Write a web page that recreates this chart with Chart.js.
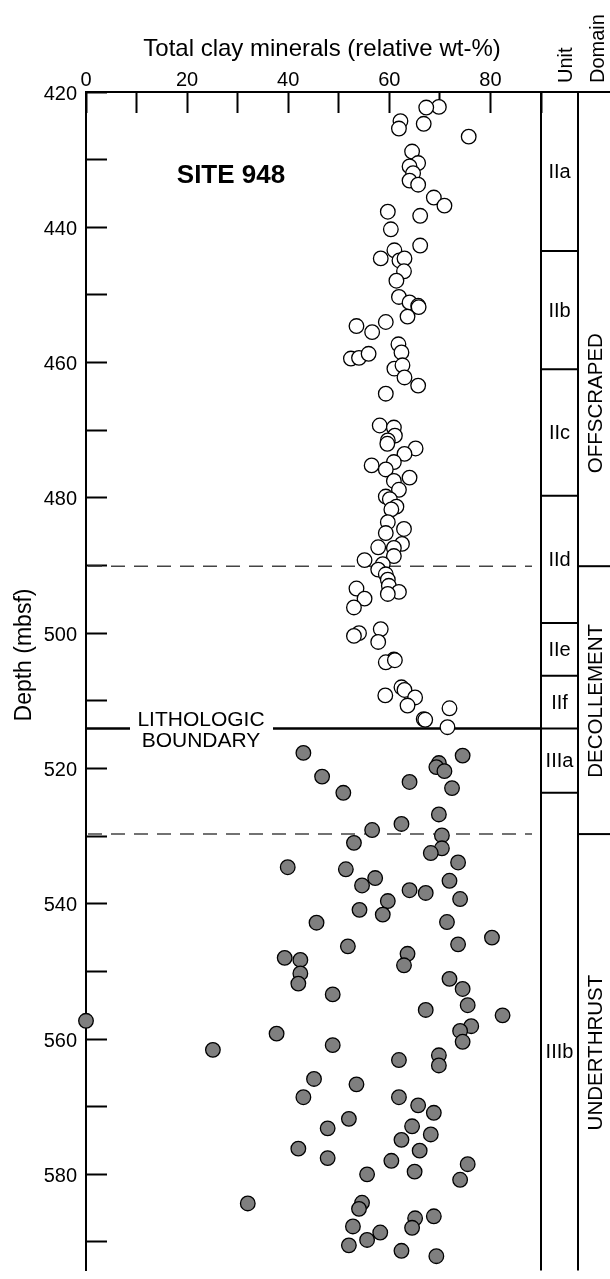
<!DOCTYPE html>
<html>
<head>
<meta charset="utf-8">
<script src="https://cdn.jsdelivr.net/npm/chart.js@4.4.0/dist/chart.umd.min.js"></script>
<style>
    html, body { margin: 0; padding: 0; background: #fff; }
    .chart-box { position: relative; width: 610px; height: 1279px; }
</style>
</head>
<body>
<div class="chart-box"><canvas id="chartClay" width="610" height="1279"></canvas></div>
<script>
/************** data ************/

// open circles : Unit II (clay wt-%, depth mbsf)
const openClay = [
    69.8, 67.3, 62.2, 61.9, 66.8, 75.7, 64.5, 65.7, 64.0, 64.7,
    64.0, 65.7, 68.8, 70.9, 59.7, 66.1, 60.3, 66.1, 61.0, 58.3,
    62.0, 63.0, 62.9, 61.4, 61.9, 64.0, 65.7, 65.8, 63.6, 59.3,
    53.5, 56.6, 61.8, 62.4, 52.4, 54.0, 55.9, 61.0, 62.6, 63.0,
    65.7, 59.3, 58.1, 60.9, 61.1, 59.7, 59.6, 65.2, 63.0, 60.9,
    56.5, 59.3, 64.0, 60.9, 61.9, 59.3, 60.1, 61.4, 60.4, 59.7,
    62.9, 59.3, 62.5, 57.8, 60.9, 60.9, 55.1, 58.7, 57.8, 59.3,
    59.7, 59.9, 61.9, 59.7, 53.5, 55.1, 53.0, 58.3, 54.0, 53.0,
    57.8, 60.9, 59.3, 61.1, 62.4, 63.0, 65.1, 59.2, 63.6, 71.9,
    66.8, 67.1, 71.5
];
const openDepth = [
    422.2, 422.3, 424.3, 425.4, 424.7, 426.6, 428.8, 430.5, 431.0, 432.0,
    433.1, 433.7, 435.6, 436.8, 437.7, 438.3, 440.3, 442.7, 443.4, 444.6,
    444.9, 444.6, 446.5, 447.9, 450.3, 451.1, 451.6, 451.8, 453.2, 454.0,
    454.6, 455.5, 457.3, 458.5, 459.4, 459.3, 458.7, 460.9, 460.4, 462.2,
    463.4, 464.6, 469.3, 469.6, 470.8, 471.5, 472.0, 472.7, 473.5, 474.7,
    475.2, 475.8, 477.0, 477.5, 478.8, 479.8, 480.2, 481.3, 481.7, 483.6,
    484.6, 485.2, 486.8, 487.3, 487.4, 488.6, 489.2, 489.8, 490.6, 491.3,
    492.1, 493.0, 493.9, 494.2, 493.4, 494.9, 496.2, 499.4, 500.0, 500.4,
    501.3, 503.9, 504.3, 504.0, 508.0, 508.4, 509.5, 509.2, 510.7, 511.1,
    512.7, 512.8, 513.9
];

// filled circles : Unit III
const closedClay = [
    43.0, 74.5, 69.8, 69.3, 70.9, 46.7, 64.0, 72.4, 50.9, 69.8,
    62.4, 56.6, 70.4, 70.4, 53.0, 68.2, 73.6, 39.9, 51.4, 57.2,
    54.6, 71.9, 64.0, 67.2, 74.0, 59.7, 54.1, 58.7, 45.6, 71.4,
    80.3, 73.6, 51.8, 63.6, 62.9, 39.3, 42.4, 42.4, 42.0, 48.8,
    71.9, 74.5, 75.5, 67.2, 82.4, 76.2, 74.0, 74.5, 37.7, 48.8,
    0.0, 25.1, 69.8, 69.8, 61.9, 45.1, 53.5, 43.0, 61.9, 65.7,
    68.8, 52.0, 47.8, 64.5, 68.2, 62.4, 66.0, 42.0, 47.8, 60.4,
    65.0, 75.5, 74.0, 55.6, 32.0, 54.6, 54.0, 65.1, 68.8, 52.8,
    64.5, 58.2, 55.6, 52.0, 62.4, 69.3
];
const closedDepth = [
    517.7, 518.1, 519.2, 519.8, 520.4, 521.2, 522.0, 522.9, 523.6, 526.8,
    528.2, 529.1, 529.9, 531.8, 531.0, 532.5, 533.9, 534.6, 534.9, 536.2,
    537.3, 536.6, 538.0, 538.4, 539.3, 539.6, 540.9, 541.6, 542.8, 542.7,
    545.0, 546.0, 546.3, 547.4, 549.1, 548.0, 548.3, 550.3, 551.8, 553.4,
    551.1, 552.6, 555.0, 555.7, 556.5, 558.1, 558.8, 560.4, 559.2, 560.9,
    557.3, 561.6, 562.4, 563.9, 563.1, 565.9, 566.7, 568.6, 568.6, 569.8,
    570.9, 571.8, 573.2, 572.9, 574.1, 574.9, 576.5, 576.2, 577.6, 578.0,
    579.6, 578.5, 580.8, 580.0, 584.3, 584.2, 585.1, 586.5, 586.2, 587.7,
    587.9, 588.6, 589.7, 590.5, 591.3, 592.1
];

// tick labels
const clayTicks = [0, 20, 40, 60, 80];
const depthTicks = [420, 440, 460, 480, 500, 520, 540, 560, 580];

// units / domains
const unitNames = ['IIa', 'IIb', 'IIc', 'IId', 'IIe', 'IIf', 'IIIa', 'IIIb'];
const unitTops = [420, 443.5, 461.0, 479.7, 498.5, 506.3, 514.1, 523.6];
const unitBase = 600;
const domainNames = ['OFFSCRAPED', 'DECOLLEMENT', 'UNDERTHRUST'];
const domainTops = [420, 490.1, 529.7];
const dashedDepths = [490.1, 529.7];
const lithBoundary = 514.1;

const FONT = "'Liberation Sans', Arial, Helvetica, sans-serif";

// points
function toPoints(xs, ys) {
    return xs.map((v, i) => ({ x: v, y: ys[i] }));
}

function strokeLine(ctx, x1, y1, x2, y2) {
    ctx.beginPath();
    ctx.moveTo(x1, y1);
    ctx.lineTo(x2, y2);
    ctx.stroke();
}

// rotated text (reads bottom to top)
function rotText(ctx, text, x, y, align) {
    ctx.save();
    ctx.translate(x, y);
    ctx.rotate(-Math.PI / 2);
    ctx.textAlign = align;
    ctx.textBaseline = 'alphabetic';
    ctx.fillText(text, 0, 0);
    ctx.restore();
}

// lines under the points
const underPlugin = {
    id: 'under',
    beforeDatasetsDraw(chart) {
        const { ctx, chartArea } = chart;
        const y = chart.scales.y;
        ctx.save();

        // dashed domain lines
        ctx.strokeStyle = '#444';
        ctx.lineWidth = 1.5;
        ctx.setLineDash([14, 9]);
        dashedDepths.forEach(d => {
            const py = y.getPixelForValue(d);
            strokeLine(ctx, chartArea.left + 2, py, chartArea.right - 9, py);
        });
        ctx.setLineDash([]);

        // lithologic boundary
        const ly = y.getPixelForValue(lithBoundary);
        ctx.strokeStyle = '#000';
        ctx.lineWidth = 2.5;
        strokeLine(ctx, chartArea.left, ly, 130, ly);
        strokeLine(ctx, 273, ly, chartArea.right, ly);

        ctx.fillStyle = '#000';
        ctx.font = '21px ' + FONT;
        ctx.textAlign = 'center';
        ctx.textBaseline = 'alphabetic';
        ctx.fillText('LITHOLOGIC', 201, ly - 3);
        ctx.fillText('BOUNDARY', 201, ly + 18);

        ctx.restore();
    }
};

// titles, unit and domain columns
const overPlugin = {
    id: 'over',
    afterDraw(chart) {
        const { ctx, chartArea } = chart;
        const y = chart.scales.y;
        const colA = chartArea.right;
        const colB = 578;
        const colC = 610;
        ctx.save();
        ctx.strokeStyle = '#000';
        ctx.fillStyle = '#000';
        ctx.lineWidth = 2;

        // column frame
        strokeLine(ctx, colA, chartArea.top, colC, chartArea.top);
        strokeLine(ctx, colA, chartArea.top, colA, chartArea.bottom);
        strokeLine(ctx, colB, chartArea.top, colB, chartArea.bottom);

        // unit boundaries + labels
        ctx.font = '20px ' + FONT;
        ctx.textAlign = 'center';
        ctx.textBaseline = 'middle';
        unitNames.forEach((name, i) => {
            const top = unitTops[i];
            const bot = i + 1 < unitTops.length ? unitTops[i + 1] : unitBase;
            if (i > 0) {
                const py = y.getPixelForValue(top);
                strokeLine(ctx, colA, py, colB, py);
            }
            ctx.fillText(name, (colA + colB) / 2, y.getPixelForValue((top + bot) / 2) + 1);
        });

        // domain boundaries + labels
        const domainMid = [466, 510, 562];
        ctx.font = '20.5px ' + FONT;
        domainNames.forEach((name, i) => {
            if (i > 0) {
                const py = y.getPixelForValue(domainTops[i]);
                strokeLine(ctx, colB, py, colC, py);
            }
            rotText(ctx, name, 602, y.getPixelForValue(domainMid[i]), 'center');
        });

        // column headers
        ctx.font = '20px ' + FONT;
        rotText(ctx, 'Unit', 572, 83, 'left');
        rotText(ctx, 'Domain', 604, 83, 'left');

        // axis titles
        ctx.font = '24px ' + FONT;
        ctx.textAlign = 'center';
        ctx.textBaseline = 'alphabetic';
        ctx.fillText('Total clay minerals (relative wt-%)', 322, 56);

        ctx.font = '23px ' + FONT;
        rotText(ctx, 'Depth (mbsf)', 31, 655, 'center');

        // site label
        ctx.font = 'bold 26px ' + FONT;
        ctx.textAlign = 'center';
        ctx.fillText('SITE 948', 231, 183);

        ctx.restore();
    }
};

function getChart(id) {
    const ctx = document.getElementById(id);
    const tickFont = { family: FONT, size: 20 };

    new Chart(ctx, {
        type: 'scatter',
        data: {
            datasets: [
                {
                    label: 'Unit II',
                    data: toPoints(openClay, openDepth),
                    pointRadius: 7.3,
                    pointBackgroundColor: '#ffffff',
                    pointBorderColor: '#000000',
                    pointBorderWidth: 1.3,
                    clip: false
                }, {
                    label: 'Unit III',
                    data: toPoints(closedClay, closedDepth),
                    pointRadius: 7.3,
                    pointBackgroundColor: '#7f7f7f',
                    pointBorderColor: '#000000',
                    pointBorderWidth: 1.3,
                    clip: false
                }
            ]
        },
        options: {
            responsive: false,
            animation: false,
            events: [],
            layout: { padding: { left: 0, top: 0, right: 69, bottom: 0 } },
            plugins: {
                legend: { display: false },
                tooltip: { enabled: false }
            },
            scales: {
                x: {
                    type: 'linear',
                    position: 'top',
                    min: 0,
                    max: 90,
                    ticks: {
                        stepSize: 10,
                        autoSkip: false,
                        maxRotation: 0,
                        padding: 21,
                        color: '#000',
                        font: tickFont,
                        callback: v => clayTicks.includes(Math.round(v)) ? String(Math.round(v)) : ''
                    },
                    grid: { drawOnChartArea: false, drawTicks: true, tickLength: -21, tickWidth: 2, tickColor: '#000' },
                    border: { display: true, color: '#000', width: 2 },
                    afterFit: s => { s.height = 92; s.paddingLeft = 0; s.paddingRight = 0; }
                },
                y: {
                    type: 'linear',
                    position: 'left',
                    reverse: true,
                    min: 420,
                    max: 594.2,
                    ticks: {
                        stepSize: 10,
                        includeBounds: false,
                        autoSkip: false,
                        padding: 30,
                        labelOffset: 2,
                        color: '#000',
                        font: tickFont,
                        callback: v => depthTicks.includes(Math.round(v)) ? String(Math.round(v)) : ''
                    },
                    grid: { drawOnChartArea: false, drawTicks: true, tickLength: -21, tickWidth: 2, tickColor: '#000' },
                    border: { display: true, color: '#000', width: 2 },
                    afterFit: s => { s.width = 86; s.paddingTop = 0; s.paddingBottom = 0; }
                }
            }
        },
        plugins: [underPlugin, overPlugin]
    });
}

window.addEventListener('DOMContentLoaded', function() {
    getChart('chartClay');
});
</script>
</body>
</html>
